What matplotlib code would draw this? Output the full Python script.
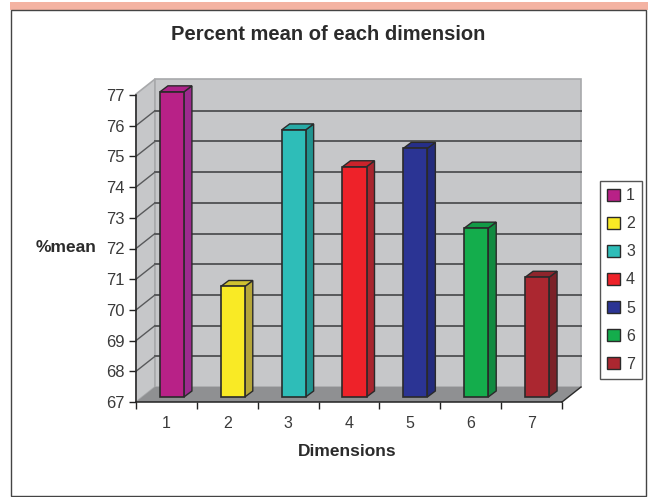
import matplotlib
matplotlib.use('Agg')
import matplotlib.pyplot as plt
from matplotlib.patches import Polygon, Rectangle, Patch

plt.rcParams['font.family'] = ['Liberation Sans', 'DejaVu Sans']

# dados
dimensions = [1, 2, 3, 4, 5, 6, 7]
values = [76.94, 70.6, 75.7, 74.5, 75.1, 72.5, 70.9]
y_ticks = [67, 68, 69, 70, 71, 72, 73, 74, 75, 76, 77]
front_colors = ['#b82187', '#f9ea25', '#2ebdb8', '#ee2229', '#2b3494', '#14ad4c', '#ab2730']
side_colors = ['#9c2a8e', '#b5a63a', '#20938f', '#a8252e', '#232b7c', '#118a40', '#7b2228']
top_colors = ['#ad2389', '#cfc130', '#27aaa6', '#c9232b', '#262f88', '#129a46', '#8f252c']

W, H = 648, 497
TEXT = '#3a3a3a'
EDGE = '#2a2a2a'

fig = plt.figure(figsize=(W / 100, H / 100), dpi=100, facecolor='white')

# moldura da pagina
fig.add_artist(Rectangle((10 / W, 1 - 10 / H), 638 / W, 8 / H, transform=fig.transFigure,
                         facecolor='#f4b3a2', edgecolor='none', zorder=-2))
fig.add_artist(Rectangle((11 / W, 1 / H), 635 / W, 1 - 11 / H, transform=fig.transFigure,
                         facecolor='white', edgecolor='#444444', linewidth=1.0, zorder=-1))

ax = fig.add_axes([136 / W, 1 - 402 / H, 426 / W, 307 / H])
ax.set_xlim(0.5, 7.5)
ax.set_ylim(67, 77)
ax.patch.set_visible(False)

# profundidade do grafico 3D em unidades de dados
dx = 19 / (426 / 7)
dy = 15 / 30.7
y_max = 77 + 0.03
x0, x1 = 0.5, 7.5

# paredes e chao
ax.add_patch(Polygon([(x0, 67), (x0, y_max), (x0 + dx, y_max + dy), (x0 + dx, 67 + dy)], closed=True,
                     facecolor='#c6c7c9', edgecolor='#a8a9ab', linewidth=1.2, clip_on=False, zorder=1))
ax.add_patch(Polygon([(x0 + dx, 67 + dy), (x0 + dx, y_max + dy), (x1 + dx, y_max + dy), (x1 + dx, 67 + dy)],
                     closed=True, facecolor='#c6c7c9', edgecolor='#a8a9ab', linewidth=1.2, clip_on=False, zorder=1))
ax.add_patch(Polygon([(x0, 67), (x1, 67), (x1 + dx, 67 + dy), (x0 + dx, 67 + dy)], closed=True,
                     facecolor='#8f9092', edgecolor='none', clip_on=False, zorder=2))
ax.plot([x1, x1 + dx], [67, 67 + dy], color=EDGE, lw=1.0, clip_on=False, zorder=2)

# grade
for t in y_ticks[1:-1]:
    ax.plot([x0 + dx, x1 + dx], [t + dy, t + dy], color='#58595b', lw=1.4, clip_on=False, zorder=2)
    ax.plot([x0, x0 + dx], [t, t + dy], color='#58595b', lw=1.0, clip_on=False, zorder=2)

# barras
bar_w = 24 / (426 / 7)
bar_x = [d + 5.5 / (426 / 7) for d in dimensions]
base = 67 + 5 / 30.7
lift = 5 / 30.7
bdx = 8 / (426 / 7)
bdy = 6 / 30.7
for i, v in enumerate(values):
    left = bar_x[i] - bar_w / 2
    right = bar_x[i] + bar_w / 2
    top = v + lift
    ax.add_patch(Polygon([(right, base), (right, top), (right + bdx, top + bdy), (right + bdx, base + bdy)],
                         closed=True, facecolor=side_colors[i], edgecolor=EDGE, linewidth=1.0,
                         clip_on=False, zorder=3))
    ax.add_patch(Polygon([(left, top), (right, top), (right + bdx, top + bdy), (left + bdx, top + bdy)],
                         closed=True, facecolor=top_colors[i], edgecolor=EDGE, linewidth=1.0,
                         clip_on=False, zorder=3))
    ax.bar(bar_x[i], v - 67, width=bar_w, bottom=base, color=front_colors[i], edgecolor=EDGE,
           linewidth=1.2, clip_on=False, zorder=4)

# eixos
for side in ['top', 'right']:
    ax.spines[side].set_visible(False)
for side in ['left', 'bottom']:
    ax.spines[side].set_color('#222222')
    ax.spines[side].set_linewidth(1.1)
    ax.spines[side].set_zorder(5)

ax.set_yticks(y_ticks)
ax.set_yticklabels([str(t) for t in y_ticks], fontsize=12, color=TEXT)
ax.tick_params(axis='y', length=5, width=1.0, color='#222222', pad=3)
ax.set_xticks([d - 0.5 for d in dimensions] + [7.5])
ax.set_xticklabels([])
ax.tick_params(axis='x', which='major', length=5, width=1.0, color='#222222')
ax.set_xticks(dimensions, minor=True)
ax.set_xticklabels([str(d) for d in dimensions], minor=True, fontsize=11.5, color=TEXT)
ax.tick_params(axis='x', which='minor', length=0, pad=10)

# textos
fig.text(328.5 / W, 1 - 34 / H, 'Percent mean of each dimension', ha='center', va='center',
         fontsize=14.5, fontweight='bold', color='#2b2b2b')
fig.text(66 / W, 1 - 247 / H, '%mean', ha='center', va='center',
         fontsize=12.5, fontweight='bold', color='#2b2b2b')
fig.text(347.5 / W, 1 - 452 / H, 'Dimensions', ha='center', va='center',
         fontsize=12.5, fontweight='bold', color='#2b2b2b')

# legenda
handles = [Patch(facecolor=c, edgecolor=EDGE, linewidth=1.0) for c in front_colors]
leg = fig.legend(handles, [str(d) for d in dimensions], loc='upper left',
                 bbox_to_anchor=(600 / W, 1 - 181 / H), bbox_transform=fig.transFigure,
                 fontsize=11.5, frameon=True, fancybox=False, edgecolor='#555555', framealpha=1,
                 labelspacing=0.82, handlelength=0.78, handleheight=0.8, handletextpad=0.4,
                 borderpad=0.45, borderaxespad=0, labelcolor=TEXT)
leg.get_frame().set_linewidth(1.0)

fig.savefig('out.png', dpi=100)
